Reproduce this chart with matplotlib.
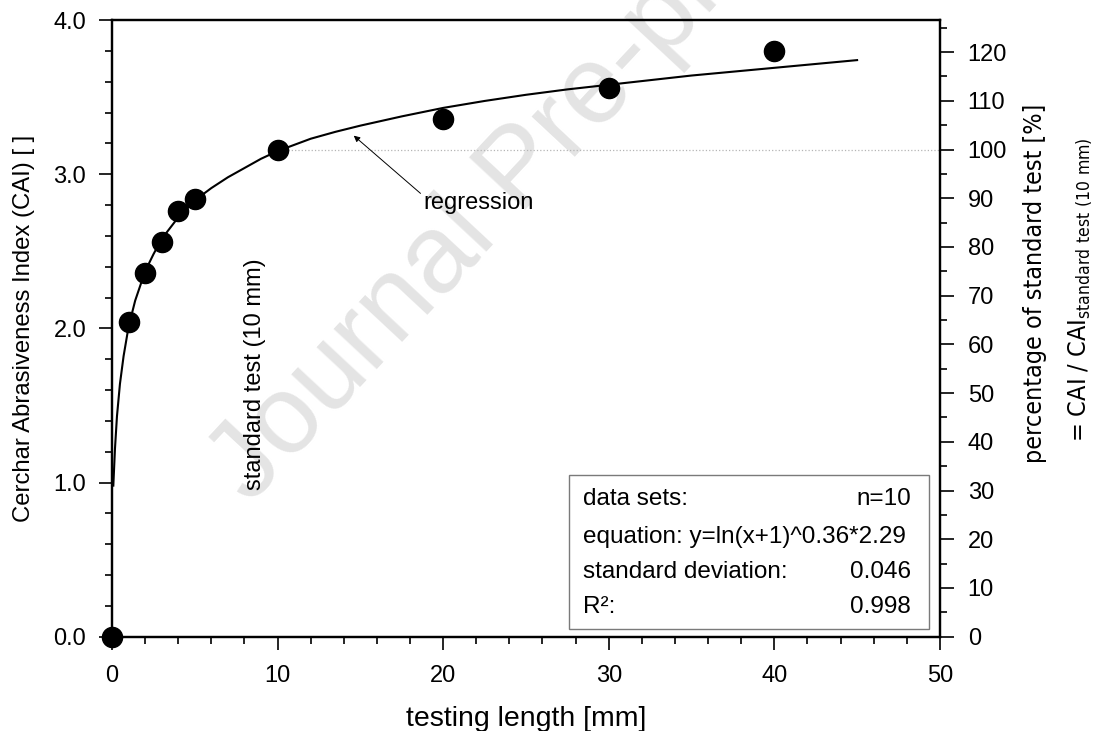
import matplotlib

matplotlib.use("Agg")

import matplotlib.pyplot as plt
from matplotlib import font_manager
from matplotlib.patches import Rectangle
from matplotlib.ticker import MultipleLocator


OUTPUT_PATH = "out.png"

# measured CAI per testing length
LENGTH_MM = [0, 1, 2, 3, 4, 5, 10, 20, 30, 40]
CAI = [0.0, 2.04, 2.36, 2.56, 2.76, 2.84, 3.16, 3.36, 3.56, 3.80]

# regression curve, points
CURVE_X = [0.08, 0.18, 0.3, 0.48, 0.7, 1.0, 1.4, 2, 2.5, 3, 4, 5, 6, 7, 8,
           9, 10, 11, 12, 13.5, 15, 17.5, 20, 22.5, 25, 27.5, 30, 32.5,
           35, 37.5, 40, 42.5, 45]
CURVE_Y = [0.98, 1.22, 1.43, 1.64, 1.82, 2.01, 2.18, 2.37, 2.48, 2.58,
           2.72, 2.83, 2.91, 2.98, 3.04, 3.10, 3.15, 3.19, 3.23, 3.275,
           3.315, 3.375, 3.43, 3.475, 3.515, 3.55, 3.58, 3.61, 3.64, 3.665,
           3.69, 3.715, 3.74]

# CAI of the standard test (10 mm) = 100 %
STANDARD_LENGTH = 10
STANDARD_CAI = 3.16

STATS_LABELS = ["data sets:", "equation: y=ln(x+1)^0.36*2.29",
                "standard deviation:", "R²:"]
STATS_VALUES = ["n=10", "", "0.046", "0.998"]

X_MAX = 50
Y_MAX = 4.0


def pick_narrow_font():
    names = {f.name for f in font_manager.fontManager.ttflist}
    if "Liberation Sans Narrow" in names:
        return dict(family="Liberation Sans Narrow")
    return dict(family="DejaVu Sans", stretch="condensed")


def style_axes(ax, ax2):
    for side in ["left", "bottom", "right", "top"]:
        ax.spines[side].set_linewidth(1.6)
        ax2.spines[side].set_linewidth(1.6)

    ax.set_xlim(0, X_MAX)
    ax.set_ylim(0, Y_MAX)
    ax2.set_ylim(0, Y_MAX / STANDARD_CAI * 100)

    ax.xaxis.set_major_locator(MultipleLocator(10))
    ax.xaxis.set_minor_locator(MultipleLocator(2))
    ax.yaxis.set_major_locator(MultipleLocator(1.0))
    ax.yaxis.set_minor_locator(MultipleLocator(0.2))
    ax.yaxis.set_major_formatter(plt.FormatStrFormatter("%.1f"))
    ax2.yaxis.set_major_locator(MultipleLocator(10))
    ax2.yaxis.set_minor_locator(MultipleLocator(5))

    ax.tick_params(axis="both", which="major", direction="out", length=9.5,
                   width=1.2, labelsize=17, top=False, right=False)
    ax.tick_params(axis="both", which="minor", direction="out", length=5,
                   width=1.2, top=False, right=False)
    ax.tick_params(axis="y", which="major", pad=9)
    ax.tick_params(axis="x", which="major", pad=11)
    ax2.tick_params(axis="y", which="major", direction="out", length=10,
                    width=1.2, labelsize=17, pad=10)
    ax2.tick_params(axis="y", which="minor", direction="out", length=5,
                    width=1.2)

    ax.patch.set_alpha(0)
    ax2.patch.set_alpha(0)


def main():
    plt.rcParams["font.family"] = ["Liberation Sans", "DejaVu Sans"]
    narrow = pick_narrow_font()

    fig = plt.figure(figsize=(10.98, 7.31), dpi=100)
    ax = fig.add_axes([0.102, 0.129, 0.754, 0.8436])
    ax2 = ax.twinx()

    # watermark behind everything
    fig.text(0.2277, 0.3092, "Journal Pre-proof", fontsize=80,
             color="#e4e4e4", rotation=47, rotation_mode="anchor",
             ha="left", va="baseline", zorder=-1)

    style_axes(ax, ax2)

    # 100 % reference line
    ax.plot([STANDARD_LENGTH, X_MAX], [STANDARD_CAI, STANDARD_CAI],
            color="#b5b5b5", linestyle=":", linewidth=0.9, zorder=1)

    ax.plot(CURVE_X, CURVE_Y, color="black", linewidth=1.5, zorder=2)
    ax.plot(LENGTH_MM, CAI, linestyle="none", marker="o", markersize=14.5,
            color="black", clip_on=False, zorder=3)

    ax.annotate("regression", xy=(14.6, 3.25), xytext=(18.8, 2.81),
                fontsize=17, ha="left", va="center",
                arrowprops=dict(arrowstyle="-|>", color="black", lw=0.7,
                                mutation_scale=9, relpos=(0, 0.85),
                                shrinkA=0, shrinkB=0))

    ax.text(8.64, 1.70, "standard test (10 mm)", rotation=90, fontsize=17,
            ha="center", va="center")

    # statistics box
    ax.add_patch(Rectangle((0.552, 0.0125), 0.4347, 0.2495,
                           transform=ax.transAxes, facecolor="white",
                           edgecolor="#7a7a7a", linewidth=1.0, zorder=4))
    rows_y = [0.223, 0.162, 0.105, 0.048]
    for y, label, value in zip(rows_y, STATS_LABELS, STATS_VALUES):
        ax.text(0.569, y, label, transform=ax.transAxes, fontsize=17.5,
                ha="left", va="center", zorder=5)
        if value:
            ax.text(0.965, y, value, transform=ax.transAxes, fontsize=17.5,
                    ha="right", va="center", zorder=5)

    ax.set_xlabel("testing length [mm]", fontsize=20.5)
    ax.xaxis.set_label_coords(0.5, -0.112)
    ax.xaxis.label.set_va("top")
    ax.set_ylabel("Cerchar Abrasiveness Index (CAI) [ ]", fontsize=17.2)
    ax.yaxis.set_label_coords(-0.093, 0.5)

    fig.text(0.9426, 0.613, "percentage of standard test [%]", rotation=90,
             fontsize=18, ha="center", va="center", **narrow)
    fig.text(0.9836, 0.603,
             r"= CAI / CAI$_{\mathregular{standard\ test\ (10\ mm)}}$",
             rotation=90, fontsize=18, ha="center", va="center", **narrow)

    fig.savefig(OUTPUT_PATH, dpi=100)


if __name__ == "__main__":
    main()
